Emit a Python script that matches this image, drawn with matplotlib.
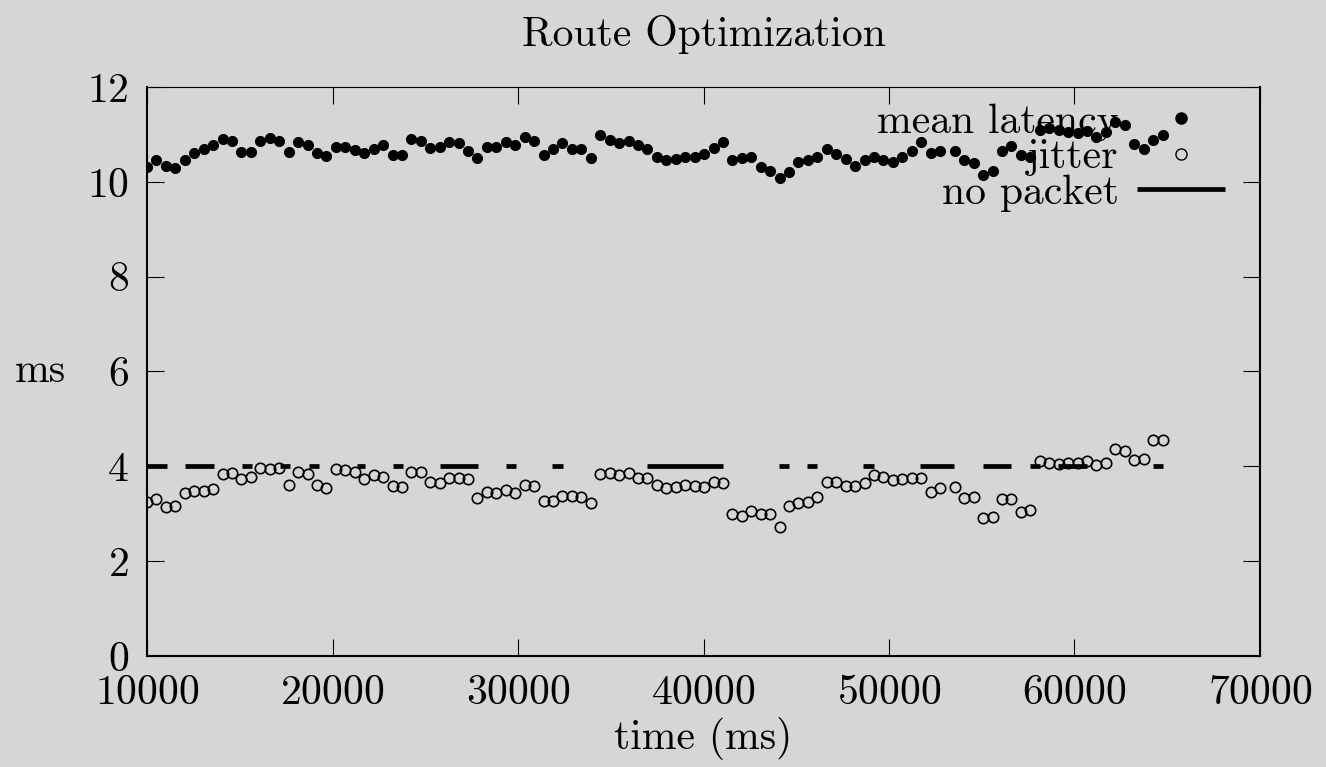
import numpy as np
import matplotlib
matplotlib.use('Agg')
import matplotlib.pyplot as plt

# gnuplot-like look: Computer Modern text on a grey canvas
plt.rcParams['font.family'] = 'cmr10'
plt.rcParams['axes.unicode_minus'] = False
plt.rcParams['axes.formatter.use_mathtext'] = True

# sample times (ms): regular ~509 ms grid with one longer step after sample 85
time_a = np.arange(85) * 509 + 10000
time_b = np.arange(23) * 509 + 53550
time = np.concatenate([time_a, time_b])

latency = [10.32, 10.45, 10.33, 10.29, 10.45, 10.60, 10.70, 10.77, 10.91, 10.87,
           10.63, 10.63, 10.87, 10.92, 10.87, 10.63, 10.83, 10.78, 10.61, 10.54,
           10.74, 10.73, 10.67, 10.61, 10.70, 10.78, 10.57, 10.57, 10.91, 10.87,
           10.71, 10.74, 10.83, 10.81, 10.66, 10.50, 10.73, 10.73, 10.84, 10.78,
           10.95, 10.87, 10.57, 10.70, 10.81, 10.70, 10.70, 10.50, 10.98, 10.88,
           10.81, 10.87, 10.77, 10.70, 10.53, 10.45, 10.49, 10.53, 10.53, 10.59,
           10.71, 10.83, 10.45, 10.50, 10.53, 10.32, 10.23, 10.08, 10.21, 10.42,
           10.45, 10.53, 10.69, 10.59, 10.49, 10.33, 10.45, 10.53, 10.47, 10.42,
           10.52, 10.64, 10.83, 10.60, 10.66, 10.66, 10.45, 10.39, 10.14, 10.22,
           10.64, 10.75, 10.57, 10.53, 11.09, 11.13, 11.09, 11.05, 11.04, 11.07,
           10.95, 11.05, 11.26, 11.20, 10.80, 10.69, 10.88, 10.98]

jitter = [3.25, 3.32, 3.14, 3.16, 3.44, 3.47, 3.49, 3.53, 3.84, 3.87,
          3.73, 3.77, 3.96, 3.95, 3.96, 3.61, 3.88, 3.84, 3.61, 3.54,
          3.94, 3.92, 3.88, 3.73, 3.81, 3.78, 3.58, 3.57, 3.89, 3.88,
          3.67, 3.65, 3.75, 3.75, 3.73, 3.33, 3.46, 3.44, 3.50, 3.44,
          3.61, 3.58, 3.26, 3.26, 3.37, 3.37, 3.35, 3.23, 3.84, 3.87,
          3.81, 3.87, 3.75, 3.75, 3.60, 3.54, 3.57, 3.61, 3.58, 3.57,
          3.67, 3.65, 2.99, 2.95, 3.06, 2.99, 2.99, 2.72, 3.16, 3.22,
          3.25, 3.36, 3.67, 3.67, 3.58, 3.58, 3.65, 3.82, 3.78, 3.71,
          3.74, 3.75, 3.75, 3.46, 3.54, 3.57, 3.33, 3.36, 2.91, 2.94,
          3.32, 3.32, 3.04, 3.08, 4.11, 4.08, 4.05, 4.08, 4.08, 4.12,
          4.03, 4.08, 4.37, 4.33, 4.13, 4.16, 4.56, 4.56]

# "no packet" intervals (ms), drawn at a fixed level
no_packet_start = [10000, 12049, 15121, 17170, 18733, 21321, 23262, 25796, 29354, 31833,
                   36955, 44071, 45581, 48600, 51673, 55069, 57603, 59112, 64233]
no_packet_end = [11078, 13612, 15660, 17709, 19272, 21752, 23801, 27844, 29893, 32427,
                 41052, 44610, 46120, 49193, 53506, 56578, 58142, 60675, 64772]
NO_PACKET_LEVEL = 4

BG = '#d6d6d6'
FS = 30

fig = plt.figure(figsize=(13.26, 7.67), dpi=100, facecolor=BG)
ax = fig.add_axes([0.1109, 0.1447, 0.8393, 0.7419])
ax.set_facecolor(BG)

ax.plot(time, latency, 'o', color='black', markersize=7, zorder=3, label='mean latency')
ax.plot(time, jitter, 'o', mfc='none', mec='black', mew=1.2, markersize=7.5, zorder=3, label='jitter')

nx, ny = [], []
for s, e in zip(no_packet_start, no_packet_end):
    nx += [s, e, np.nan]
    ny += [NO_PACKET_LEVEL, NO_PACKET_LEVEL, np.nan]
ax.plot(nx, ny, color='black', linewidth=3.4, solid_capstyle='butt', zorder=2, label='no packet')

ax.set_xlim(10000, 70000)
ax.set_ylim(0, 12)
ax.set_xticks(range(10000, 70001, 10000))
ax.set_yticks(range(0, 13, 2))
ax.tick_params(direction='in', length=12, width=0.8, top=True, right=True,
               labelsize=FS, pad=13)
for side in ['left', 'bottom', 'right']:
    ax.spines[side].set_linewidth(1.5)
ax.spines['top'].set_linewidth(0.8)

ax.set_title('Route Optimization', fontsize=FS, y=1.077, va='center')
ax.set_xlabel('time (ms)', fontsize=FS)
ax.xaxis.set_label_coords(0.5, -0.1441)
ax.xaxis.label.set_va('center')
ax.set_ylabel('ms', fontsize=FS, rotation=0, ha='center', va='center')
ax.yaxis.set_label_coords(-0.0961, 0.5)

leg = ax.legend(loc='upper right', bbox_to_anchor=(0.9946, 1.022), frameon=False,
                markerfirst=False, fontsize=FS, handlelength=2.1, handletextpad=0.45,
                labelspacing=-0.05, borderaxespad=0.3)
leg.set_zorder(1)
leg.legend_handles[0].set_markersize(8)
leg.legend_handles[1].set_markersize(8)
leg.legend_handles[1].set_markeredgewidth(1.0)

fig.savefig('out.png', dpi=100, facecolor=BG)
